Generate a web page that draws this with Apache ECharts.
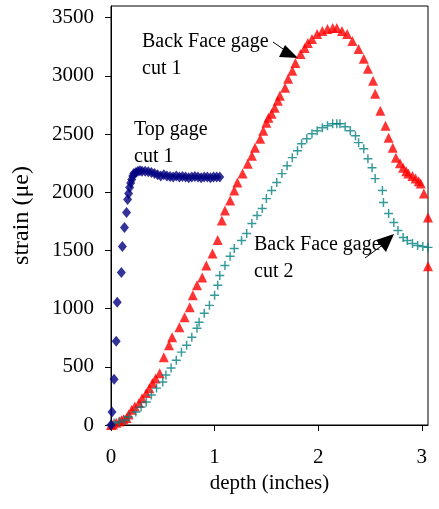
<!DOCTYPE html>
<html>
<head>
<meta charset="utf-8">
<script src="https://cdn.jsdelivr.net/npm/echarts@6/dist/echarts.min.js"></script>
<style>
  html, body { margin: 0; padding: 0; background: #fff; }
  #chart { width: 439px; height: 509px; }
</style>
</head>
<body>
<div id="chart"></div>
<script>
// Top gage cut 1
var topDepth = [0, 0.01, 0.03, 0.05, 0.06, 0.10, 0.11, 0.13, 0.15, 0.16, 0.17, 0.18, 0.19, 0.20, 0.21, 0.22, 0.24, 0.26, 0.28, 0.30, 0.33, 0.36, 0.39, 0.42, 0.45, 0.48, 0.51, 0.54, 0.57, 0.60, 0.63, 0.66, 0.69, 0.72, 0.75, 0.78, 0.81, 0.84, 0.87, 0.90, 0.93, 0.96, 0.99, 1.02, 1.05];
var topStrain = [0, 111, 394, 720, 1054, 1311, 1534, 1697, 1826, 1937, 1990, 2040, 2080, 2110, 2140, 2160, 2170, 2180, 2185, 2180, 2180, 2175, 2170, 2160, 2150, 2140, 2150, 2140, 2135, 2130, 2140, 2130, 2135, 2130, 2125, 2130, 2135, 2130, 2125, 2130, 2130, 2125, 2130, 2130, 2130];

// Back Face gage cut 1
var bf1Depth = [0, 0.02, 0.05, 0.08, 0.10, 0.12, 0.15, 0.17, 0.20, 0.23, 0.27, 0.30, 0.34, 0.37, 0.40, 0.43, 0.47, 0.51, 0.56, 0.59, 0.66, 0.71, 0.76, 0.79, 0.83, 0.88, 0.92, 0.98, 1.03, 1.07, 1.10, 1.15, 1.19, 1.22, 1.27, 1.32, 1.36, 1.39, 1.44, 1.47, 1.50, 1.52, 1.55, 1.58, 1.61, 1.63, 1.68, 1.71, 1.75, 1.78, 1.83, 1.87, 1.90, 1.94, 1.99, 2.04, 2.09, 2.14, 2.18, 2.23, 2.28, 2.33, 2.39, 2.44, 2.48, 2.53, 2.55, 2.60, 2.65, 2.68, 2.72, 2.75, 2.79, 2.82, 2.85, 2.87, 2.91, 2.94, 2.97, 2.99, 3.02, 3.06, 3.06];
var bf1Strain = [0, 5, 20, 30, 40, 50, 60, 90, 130, 160, 190, 230, 275, 315, 360, 400, 445, 583, 686, 754, 840, 926, 1011, 1114, 1200, 1268, 1371, 1474, 1590, 1757, 1843, 1928, 2014, 2083, 2160, 2245, 2314, 2383, 2460, 2528, 2597, 2640, 2674, 2725, 2785, 2828, 2897, 2974, 3043, 3111, 3188, 3240, 3283, 3317, 3360, 3386, 3403, 3411, 3411, 3386, 3360, 3300, 3231, 3146, 3060, 2957, 2845, 2700, 2571, 2468, 2383, 2297, 2250, 2211, 2180, 2160, 2140, 2117, 2095, 2074, 1988, 1783, 1363];

// Back Face gage cut 2
var bf2Depth = [0, 0.03, 0.08, 0.13, 0.17, 0.24, 0.29, 0.34, 0.39, 0.44, 0.50, 0.53, 0.58, 0.63, 0.68, 0.73, 0.78, 0.83, 0.85, 0.90, 0.95, 1.00, 1.03, 1.05, 1.10, 1.15, 1.19, 1.26, 1.31, 1.36, 1.41, 1.46, 1.50, 1.55, 1.60, 1.65, 1.70, 1.75, 1.80, 1.84, 1.89, 1.94, 1.99, 2.04, 2.09, 2.14, 2.18, 2.21, 2.26, 2.31, 2.36, 2.39, 2.44, 2.48, 2.52, 2.55, 2.62, 2.63, 2.68, 2.73, 2.77, 2.82, 2.86, 2.91, 2.96, 3.01, 3.06];
var bf2Strain = [0, 17, 26, 43, 69, 111, 154, 197, 257, 317, 369, 429, 489, 557, 626, 686, 754, 831, 883, 960, 1028, 1114, 1200, 1285, 1370, 1450, 1517, 1585, 1645, 1731, 1800, 1860, 1945, 2014, 2083, 2160, 2228, 2297, 2357, 2417, 2460, 2503, 2528, 2554, 2571, 2588, 2588, 2588, 2563, 2528, 2486, 2426, 2374, 2288, 2211, 2117, 2014, 1911, 1817, 1740, 1671, 1611, 1585, 1560, 1543, 1534, 1526];

var xTicks = [0, 1, 2, 3];

function pairs(xs, ys) {
  return xs.map(function (x, i) { return [x, ys[i]]; });
}

var serif = 'Liberation Serif';
var chart = echarts.init(document.getElementById('chart'));

var option = {
  animation: false,
  grid: {
    left: 111, right: 11, top: 6, bottom: 84,
    show: true, borderColor: '#000', borderWidth: 1
  },
  xAxis: {
    type: 'value',
    min: 0, max: 3.06, interval: 1,
    name: 'depth (inches)',
    nameLocation: 'middle',
    nameGap: 47,
    nameTextStyle: { fontFamily: serif, fontSize: 21, color: '#000' },
    axisLine: { lineStyle: { color: '#000' } },
    axisTick: { length: 6, lineStyle: { color: '#000' } },
    splitLine: { show: false },
    axisLabel: {
      showMaxLabel: false, margin: 22,
      fontFamily: serif, fontSize: 21, color: '#000',
      formatter: function (v) { return xTicks.indexOf(v) >= 0 ? String(v) : ''; }
    }
  },
  yAxis: {
    type: 'value',
    min: 0, max: 3600, interval: 500,
    name: 'strain (μe)',
    nameLocation: 'middle',
    nameGap: 77,
    nameTextStyle: { fontFamily: serif, fontSize: 24, color: '#000' },
    axisLine: { show: true, lineStyle: { color: '#000' } },
    axisTick: { show: true, length: 6, lineStyle: { color: '#000' } },
    splitLine: { show: false },
    axisLabel: {
      showMaxLabel: false, margin: 17,
      fontFamily: serif, fontSize: 21, color: '#000',
      formatter: function (v) { return String(v); }
    }
  },
  series: [
    {
      name: 'Back Face gage cut 1',
      type: 'scatter',
      symbol: 'triangle',
      symbolSize: 10,
      itemStyle: { color: '#ff0000' },
      data: pairs(bf1Depth, bf1Strain)
    },
    {
      name: 'Back Face gage cut 2',
      type: 'scatter',
      symbol: 'path://M0,4.2H10V5.8H0Z M4.2,0H5.8V10H4.2Z',
      symbolSize: 9,
      itemStyle: { color: '#008080' },
      data: pairs(bf2Depth, bf2Strain)
    },
    {
      name: 'Top gage cut 1',
      type: 'scatter',
      symbol: 'diamond',
      symbolSize: [9, 11],
      itemStyle: { color: '#000080' },
      data: pairs(topDepth, topStrain)
    }
  ],
  graphic: [
    { type: 'text', left: 142, top: 28,
      style: { text: 'Back Face gage\ncut 1', font: '20px ' + serif, lineHeight: 27, fill: '#000' } },
    { type: 'text', left: 134, top: 116,
      style: { text: 'Top gage\ncut 1', font: '20px ' + serif, lineHeight: 27, fill: '#000' } },
    { type: 'text', left: 254, top: 231,
      style: { text: 'Back Face gage\ncut 2', font: '20px ' + serif, lineHeight: 27, fill: '#000' } },
    { type: 'line', shape: { x1: 273, y1: 42, x2: 286, y2: 51 }, style: { stroke: '#000', lineWidth: 1 } },
    { type: 'polygon', shape: { points: [[298, 58], [279, 57], [285, 45]] }, style: { fill: '#000' } },
    { type: 'line', shape: { x1: 365, y1: 258, x2: 384, y2: 244 }, style: { stroke: '#000', lineWidth: 1 } },
    { type: 'polygon', shape: { points: [[394, 234], [376, 240], [386, 252]] }, style: { fill: '#000' } }
  ]
};

chart.setOption(option);
</script>
</body>
</html>
